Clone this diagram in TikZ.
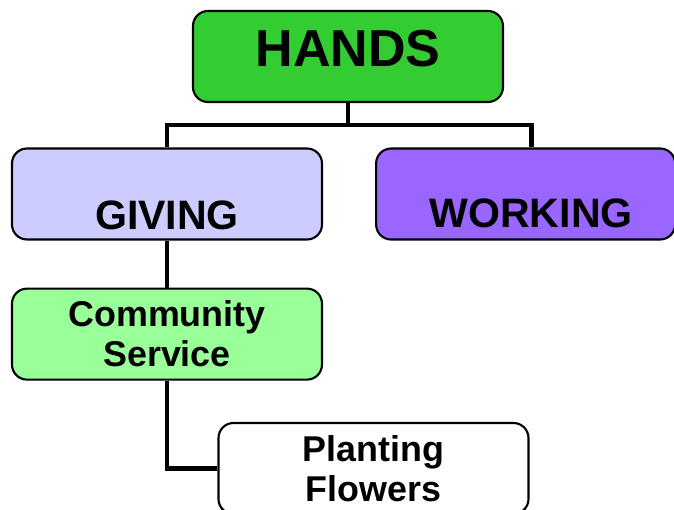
\documentclass[tikz,border=0pt]{standalone}
\usepackage{fontspec}
\setmainfont{Liberation Sans}
\usetikzlibrary{positioning}

\definecolor{handsgreen}{HTML}{33CC33}
\definecolor{givingblue}{HTML}{CCCCFF}
\definecolor{workingpurple}{HTML}{9966FF}
\definecolor{servicegreen}{HTML}{99FF99}

\begin{document}
\begin{tikzpicture}[
        node distance=.47cm and .52cm,
        every node/.style={draw, rounded corners=.15cm, line width=.6pt, align=center, inner sep=0pt, minimum width=3.1cm, minimum height=.91cm},
        link/.style={line width=1.4pt},
        root/.style={fill=handsgreen, font=\fontsize{14.8}{17}\selectfont\bfseries, text height=.55cm, text depth=.36cm},
        branch/.style={font=\fontsize{11.7}{14}\selectfont\bfseries, text height=.81cm, text depth=.10cm},
        leaf/.style={font=\fontsize{10.2}{11.4}\selectfont\bfseries}
    ]
  \useasboundingbox (0,0) rectangle (6.74,-5.10);

  % Nodes
  \node (hands) [root] at (3.48,-.565) {HANDS};
  \node (giving) [branch, fill=givingblue] at (1.67,-1.94) {GIVING};
  \node (working) [branch, fill=workingpurple, minimum width=2.99cm, text height=.78cm, text depth=.12cm, right=of giving] {\hspace*{.11cm}WORKING};
  \node (service) [leaf, fill=servicegreen, below=of giving] {Community\\Service};
  \node (flowers) [leaf, fill=white] at (3.735,-4.685) {Planting\\Flowers};

  \coordinate (bus) at (3.48,-1.25);

  \draw[link] (hands.south) -- (bus);
  \draw[link] (bus) -| (giving.north);
  \draw[link] (bus) -| ([xshift=.055cm]working.north);
  \draw[line width=1.1pt] (giving.south) -- (service.north);
  \draw[link] (service.south) |- (flowers.west);
\end{tikzpicture}
\end{document}
